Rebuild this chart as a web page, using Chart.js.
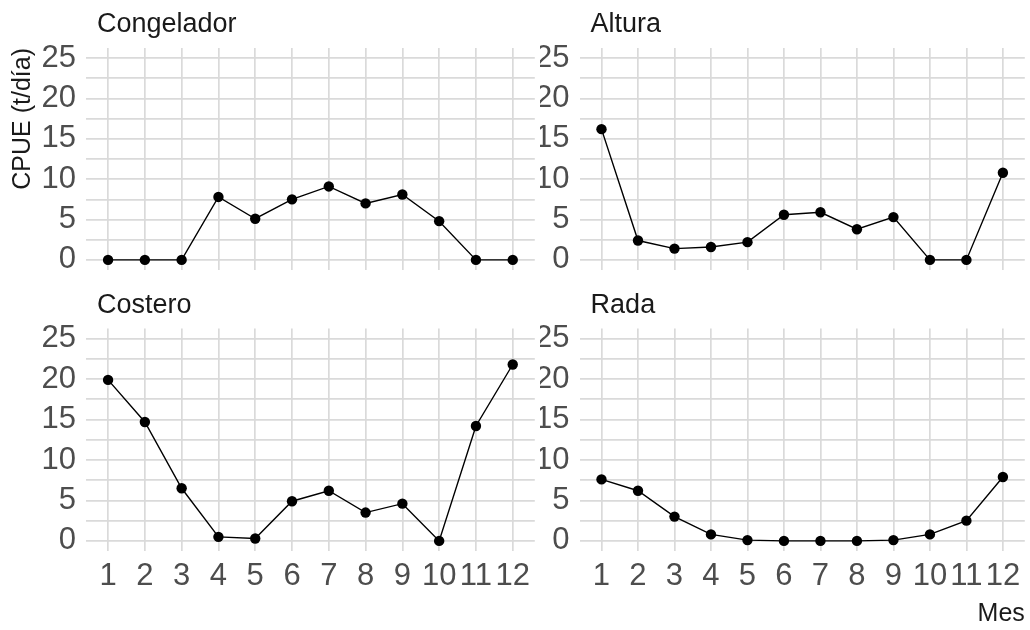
<!DOCTYPE html>
<html>
<head>
<meta charset="utf-8">
<script src="https://cdn.jsdelivr.net/npm/chart.js@4.4.1/dist/chart.umd.min.js"></script>
<style>
    html, body { margin: 0; padding: 0; background: #fff; }
    #fig { position: relative; width: 1030px; height: 630px; overflow: hidden; }
    .panel { position: absolute; }
</style>
</head>
<body>
<div id="fig">
    <div class="panel" style="left:0;top:0;width:540px;height:310px"><canvas id="pCongelador"></canvas></div>
    <div class="panel" style="left:540px;top:0;width:490px;height:310px"><canvas id="pAltura"></canvas></div>
    <div class="panel" style="left:0;top:280px;width:540px;height:350px"><canvas id="pCostero"></canvas></div>
    <div class="panel" style="left:540px;top:280px;width:490px;height:350px"><canvas id="pRada"></canvas></div>
</div>
<script>
// Mes (1-12) and CPUE (t/día) per fleet
const months = [1, 2, 3, 4, 5, 6, 7, 8, 9, 10, 11, 12];
const congelador = [0, 0, 0, 7.8, 5.1, 7.5, 9.1, 7.0, 8.1, 4.8, 0, 0];
const altura = [16.2, 2.4, 1.4, 1.6, 2.2, 5.6, 5.9, 3.8, 5.3, 0, 0, 10.8];
const costero = [19.9, 14.7, 6.5, 0.5, 0.3, 4.9, 6.2, 3.5, 4.6, 0, 14.2, 21.8];
const rada = [7.6, 6.2, 3.0, 0.8, 0.1, 0, 0, 0, 0.1, 0.8, 2.5, 7.9];

const yMajorTicks = [0, 5, 10, 15, 20, 25];
const yMinorTicks = [2.5, 7.5, 12.5, 17.5, 22.5];

const family = "'Liberation Sans', Arial, sans-serif";
const gridColor = '#DADADA';

// facet strip label, left aligned above each panel
const stripTitle = {
    id: 'stripTitle',
    afterDraw(chart, args, opts) {
        const { ctx, chartArea } = chart;
        ctx.save();
        ctx.font = `27px ${family}`;
        ctx.fillStyle = '#1A1A1A';
        ctx.textAlign = 'left';
        ctx.textBaseline = 'alphabetic';
        ctx.fillText(opts.text, chartArea.left + 11, chartArea.top - 16);
        ctx.restore();
    }
};

function makePanel(id, title, values, opt) {
    new Chart(document.getElementById(id), {
        type: 'line',
        data: {
            datasets: [{
                data: months.map((m, i) => ({ x: m, y: values[i] })),
                borderColor: '#000',
                borderWidth: 1.4,
                pointRadius: 5.2,
                pointBackgroundColor: '#000',
                pointBorderWidth: 0,
                tension: 0
            }]
        },
        options: {
            responsive: true,
            maintainAspectRatio: false,
            animation: false,
            layout: { padding: { top: opt.top, right: opt.right, left: 0, bottom: 0 } },
            plugins: {
                legend: { display: false },
                tooltip: { enabled: false },
                stripTitle: { text: title }
            },
            scales: {
                x: {
                    type: 'linear',
                    min: 0.4,
                    max: 12.6,
                    afterBuildTicks: s => { s.ticks = months.map(v => ({ value: v })); },
                    afterFit: s => { s.height = opt.xHeight; },
                    grid: { color: gridColor, lineWidth: 1.7, drawTicks: false },
                    border: { display: false },
                    ticks: {
                        display: opt.showX,
                        autoSkip: false,
                        maxRotation: 0,
                        minRotation: 0,
                        padding: 7,
                        color: '#4D4D4D',
                        font: { family, size: 31 }
                    },
                    title: {
                        display: !!opt.xTitle,
                        text: opt.xTitle || '',
                        align: 'end',
                        padding: { top: 0, bottom: 1 },
                        color: '#1A1A1A',
                        font: { family, size: 25 }
                    }
                },
                y: {
                    min: -1.25,
                    max: 26.25,
                    afterBuildTicks: s => {
                        s.ticks = yMajorTicks.concat(yMinorTicks).sort((a, b) => a - b).map(v => ({ value: v }));
                    },
                    afterFit: s => { s.width = opt.yWidth; },
                    grid: { color: gridColor, lineWidth: 1.7, drawTicks: false },
                    border: { display: false },
                    ticks: {
                        autoSkip: false,
                        padding: 10,
                        color: '#4D4D4D',
                        font: { family, size: 31 },
                        callback: v => yMajorTicks.includes(v) ? String(v) : ''
                    },
                    title: {
                        display: !!opt.yTitle,
                        text: opt.yTitle || '',
                        align: 'end',
                        padding: { top: 8, bottom: 0 },
                        color: '#1A1A1A',
                        font: { family, size: 25 }
                    }
                }
            }
        },
        plugins: [stripTitle]
    });
}

makePanel('pCongelador', 'Congelador', congelador,
    { top: 48, right: 4, yWidth: 86, xHeight: 40, showX: false, yTitle: 'CPUE (t/día)' });
makePanel('pAltura', 'Altura', altura,
    { top: 48, right: 0, yWidth: 39.6, xHeight: 40, showX: false });
makePanel('pCostero', 'Costero', costero,
    { top: 48.5, right: 4, yWidth: 86, xHeight: 79, showX: true });
makePanel('pRada', 'Rada', rada,
    { top: 48.5, right: 0, yWidth: 39.6, xHeight: 79, showX: true, xTitle: 'Mes' });
</script>
</body>
</html>
